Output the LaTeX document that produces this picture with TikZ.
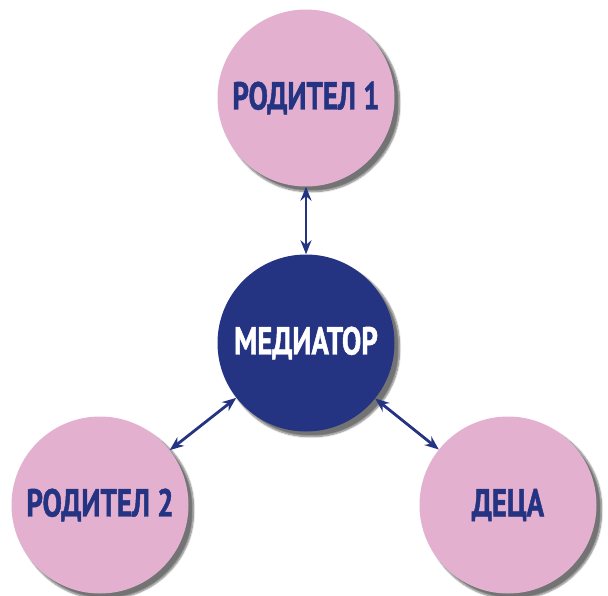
\documentclass[tikz,border=0pt]{standalone}
\usepackage{fontspec}
\newfontfamily\labfont{PT Sans}[FakeStretch=0.74,FakeBold=1.2]
\usetikzlibrary{arrows.meta,shadows.blur}
\definecolor{pinkc}{HTML}{E3B1CF}
\definecolor{navyc}{HTML}{253383}
\tikzset{
  circ/.style={circle,minimum size=177pt,inner sep=0pt,
    blur shadow={shadow xshift=5pt,shadow yshift=-5pt,shadow blur steps=8,shadow blur extra rounding=3pt,shadow opacity=55},
    font=\labfont\bfseries\fontsize{39}{42}\selectfont},
  parent/.style={circ,fill=pinkc,text=navyc},
  mediator/.style={circ,fill=navyc,text=white},
  link/.style={navyc,line width=2.8pt,{Stealth[length=14pt,width=11pt]}-{Stealth[length=14pt,width=11pt]}}
}
\begin{document}
\begin{tikzpicture}[x=1pt,y=-1pt]
\useasboundingbox (0,0) rectangle (608,595);
\node[parent] (p1) at (306,98) {РОДИТЕЛ 1};
\node[mediator] (m) at (306,343) {МЕДИАТОР};
\node[parent] (p2) at (100,505) {РОДИТЕЛ 2};
\node[parent] (d) at (508,505) {ДЕЦА};
\draw[link] (p1) -- (m);
\draw[link] (p2) -- (m);
\draw[link] (d) -- (m);
\end{tikzpicture}
\end{document}
